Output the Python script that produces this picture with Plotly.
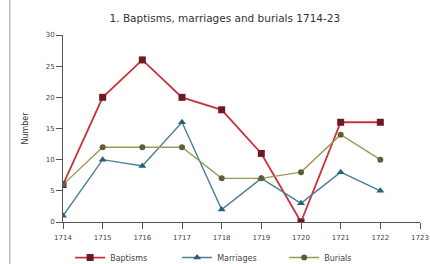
import plotly.graph_objects as go

years = [1714, 1715, 1716, 1717, 1718, 1719, 1720, 1721, 1722]
baptisms = [6, 20, 26, 20, 18, 11, 0, 16, 16]
marriages = [1, 10, 9, 16, 2, 7, 3, 8, 5]
burials = [6, 12, 12, 12, 7, 7, 8, 14, 10]
x_ticks = [1714, 1715, 1716, 1717, 1718, 1719, 1720, 1721, 1722, 1723]
y_ticks = [0, 5, 10, 15, 20, 25, 30]

fig = go.Figure()
fig.add_trace(go.Scatter(x=years, y=baptisms, name="Baptisms", mode="lines+markers",
                         line=dict(color="#c8323a", width=1.8),
                         marker=dict(symbol="square", size=7, color="#6e1a26")))
fig.add_trace(go.Scatter(x=years, y=marriages, name="Marriages", mode="lines+markers",
                         line=dict(color="#4a7f98", width=1.4),
                         marker=dict(symbol="triangle-up", size=7, color="#2c5f78")))
fig.add_trace(go.Scatter(x=years, y=burials, name="Burials", mode="lines+markers",
                         line=dict(color="#9a9a55", width=1.4),
                         marker=dict(symbol="circle", size=6, color="#5e5e3a")))

font = "DejaVu Sans"
fig.update_layout(
    width=430, height=264,
    margin=dict(l=63, r=10, t=35, b=42, autoexpand=False),
    paper_bgcolor="white", plot_bgcolor="white",
    title=dict(text="1. Baptisms, marriages and burials 1714-23", x=0.523, y=0.93,
               xanchor="center", yanchor="middle",
               font=dict(family=font, size=10.5, color="#333")),
    showlegend=True,
    legend=dict(orientation="h", x=0.02, xanchor="left", y=-0.19, yanchor="middle",
                font=dict(family=font, size=8, color="#444"), itemwidth=30,
                entrywidth=62, entrywidthmode="pixels", bgcolor="rgba(0,0,0,0)"),
    xaxis=dict(range=[1714, 1723], tickvals=x_ticks, ticktext=[str(v) for v in x_ticks],
               showgrid=False, zeroline=False, showline=True, linecolor="#555",
               ticks="outside", ticklen=6, tickcolor="#555", ticklabelstandoff=3,
               tickfont=dict(family=font, size=7, color="#444")),
    yaxis=dict(range=[0, 30], tickvals=y_ticks, showgrid=False, zeroline=False,
               showline=True, linecolor="#555", ticks="outside", ticklen=6,
               tickcolor="#555", tickfont=dict(family=font, size=7, color="#444"),
               title=dict(text="Number", font=dict(family=font, size=8, color="#333"),
                          standoff=15)),
)
fig.add_shape(type="line", xref="paper", yref="paper", x0=-0.149, x1=-0.149, y0=-0.23, y1=1.19,
              line=dict(color="#999", width=1))
fig.write_html("out.html", config={"displayModeBar": False},
               post_script="document.body.style.margin='0';document.body.style.overflow='hidden';")
